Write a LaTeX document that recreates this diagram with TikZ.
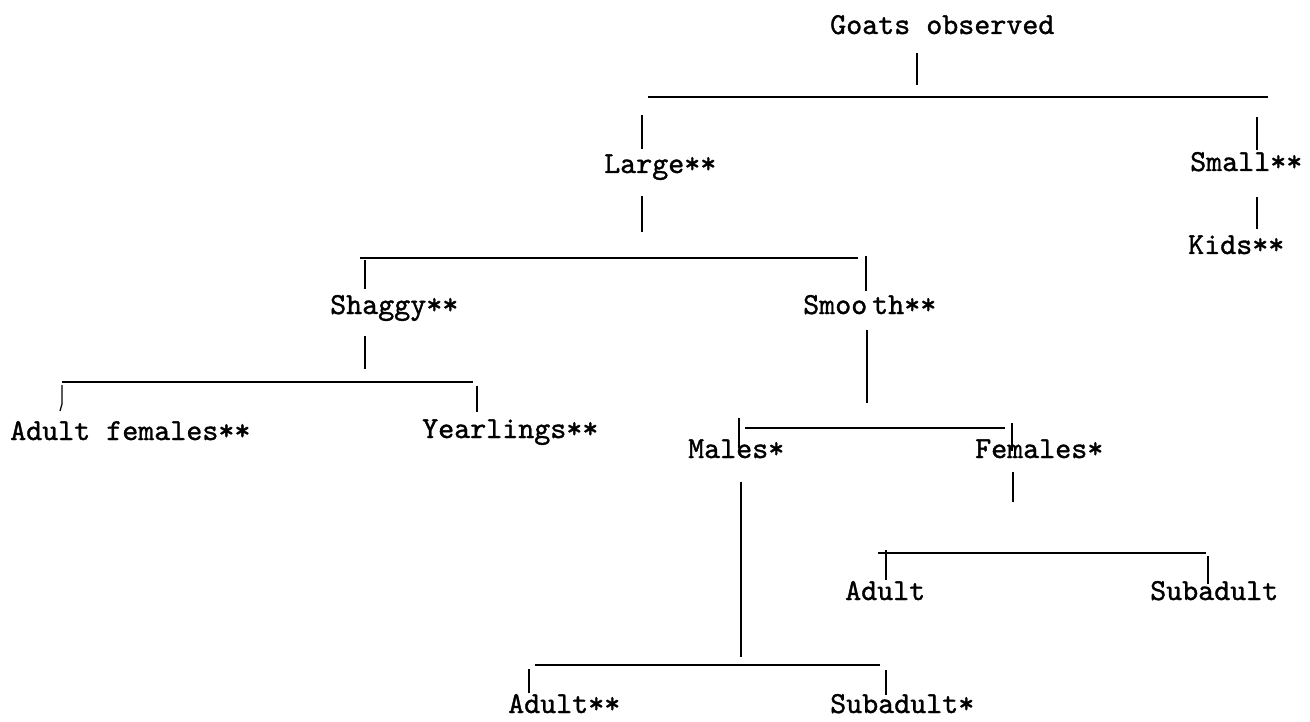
\documentclass[tikz,border=0pt]{standalone}
\usepackage{fontspec}
\newfontfamily\tw[FakeBold=1.2]{lmmono10-regular.otf}
\begin{document}
\begin{tikzpicture}[x=1pt,y=-1pt,
  lbl/.style={anchor=base west, inner sep=0pt, font=\tw\fontsize{30.5}{32}\selectfont},
  bar/.style={line width=2.6pt},
  stem/.style={line width=1.3pt}]
\useasboundingbox (0,0) rectangle (1310,722);
% labels
\node[lbl] (goats) at (830,34) {Goats observed};
\node[lbl] (large) at (604,173) {Large**};
\node[lbl] (small) at (1190,171) {Small**};
\node[lbl] (kids) at (1188,254) {Kids**};
\node[lbl] (shaggy) at (330,314) {Shaggy**};
\node[lbl] (smooth) at (803,314) {Smoo\kern5pt th**};
\node[lbl] (adultf) at (10,440) {Adult females**};
\node[lbl] (yearl) at (422,438) {Yearlings**};
\node[lbl] (males) at (688,458) {Males*};
\node[lbl] (females) at (975,458) {Females*};
\node[lbl] (adultF) at (845,600) {Adult};
\node[lbl] (subF) at (1150,600) {Subadult};
\node[lbl] (adultM) at (508,713) {Adult**};
\node[lbl] (subM) at (830,713) {Subadult*};
% level 1
\draw[stem] (917,53) coordinate (g1) -- (917,85) coordinate (g2);
\draw[bar] (648,97) coordinate (b1l) -- (1268,97) coordinate (b1r);
\draw[stem] (642,115) coordinate (l1) -- (642,149) coordinate (l2);
\draw[stem] (642,196) coordinate (l3) -- (642,232) coordinate (l4);
\draw[stem] (1257,117) coordinate (s1) -- (1257,150) coordinate (s2);
\draw[stem] (1257,197) coordinate (s3) -- (1257,229) coordinate (s4);
% level 2
\draw[bar] (360,258) coordinate (b2l) -- (858,258) coordinate (b2r);
\draw[stem] (365,260) coordinate (h1) -- (365,289) coordinate (h2);
\draw[stem] (365,336) coordinate (h3) -- (365,369) coordinate (h4);
\draw[stem] (866,256) coordinate (m1) -- (866,291) coordinate (m2);
\draw[stem] (867,330) coordinate (m3) -- (867,403) coordinate (m4);
% shaggy children
\draw[bar] (62,382) coordinate (b3l) -- (473,382) coordinate (b3r);
\draw[stem] (62,385) coordinate (a1) -- (62,404) coordinate (a2) to[out=-90,in=90] (60,411) coordinate (a3);
\draw[stem] (477,386) coordinate (y1) -- (477,412) coordinate (y2);
% smooth children
\draw[bar] (745,428) coordinate (b4l) -- (1005,428) coordinate (b4r);
\draw[stem] (739,418) coordinate (ma1) -- (739,448) coordinate (ma2);
\draw[stem] (1012,423) coordinate (fe1) -- (1012,451) coordinate (fe2);
% females children
\draw[stem] (1013,472) coordinate (fe3) -- (1013,502) coordinate (fe4);
\draw[bar] (878,553) coordinate (b5l) -- (1206,553) coordinate (b5r);
\draw[stem] (886,550) coordinate (fa1) -- (886,580) coordinate (fa2);
\draw[stem] (1208,556) coordinate (fs1) -- (1208,584) coordinate (fs2);
% males children
\draw[stem] (741,482) coordinate (ma3) -- (741,657) coordinate (ma4);
\draw[bar] (535,665) coordinate (b6l) -- (880,665) coordinate (b6r);
\draw[stem] (529,669) coordinate (mA1) -- (529,693) coordinate (mA2);
\draw[stem] (886,670) coordinate (mS1) -- (886,695) coordinate (mS2);
\end{tikzpicture}
\end{document}
